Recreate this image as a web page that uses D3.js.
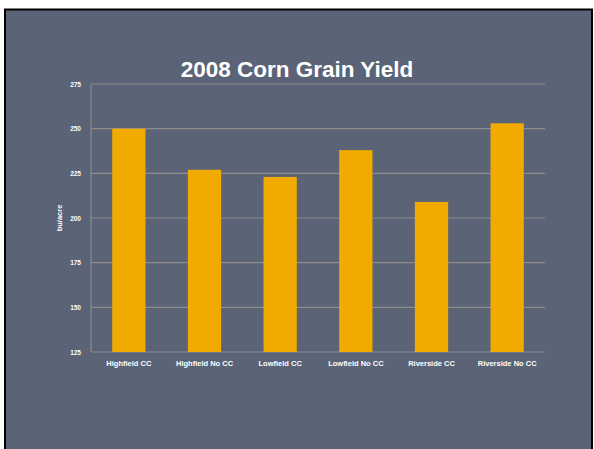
<!DOCTYPE html>
<html>
<head>
<meta charset="utf-8">
<script src="https://cdn.jsdelivr.net/npm/d3@7"></script>
<style>
  body { margin: 0; background: #fff; }
</style>
</head>
<body>
<div id="chart"></div>
<script>
// Data
var categories = ["Highfield CC", "Highfield No CC", "Lowfield CC", "Lowfield No CC", "Riverside CC", "Riverside No CC"];
var yields = [250, 227, 223, 238, 209, 253];
var tickValues = [125, 150, 175, 200, 225, 250, 275];

var W = 594, H = 449,
    font_family = "'Liberation Sans', Arial, sans-serif";

var margin = {top: 84, left: 91, right: 49, bottom: 97},
    width = W - margin.left - margin.right,
    height = H - margin.top - margin.bottom;

var svg = d3.select("#chart").append("svg")
  .attr("width", W)
  .attr("height", H);

// Slide background + frame
svg.append("rect")
  .attr("x", 5).attr("y", 9.5)
  .attr("width", 587).attr("height", 445)
  .attr("fill", "#5b6377")
  .attr("stroke", "#000")
  .attr("stroke-width", 2);

var xScale = d3.scaleBand()
  .domain(categories)
  .range([0, width])
  .paddingInner(0.56)
  .paddingOuter(0.28);

var yScale = d3.scaleLinear()
  .domain([125, 275])
  .range([height, 0]);

var g = svg.append("g")
  .attr("transform", "translate(" + margin.left + "," + margin.top + ")");

// Gridlines
g.append("g")
  .selectAll("line")
  .data(tickValues)
  .enter().append("line")
    .attr("x1", 0)
    .attr("x2", width)
    .attr("y1", function(d) { return yScale(d); })
    .attr("y2", function(d) { return yScale(d); })
    .attr("stroke", "#8c8c8c")
    .attr("stroke-width", 1.2);

// Y axis line
g.append("line")
  .attr("x1", 0).attr("x2", 0)
  .attr("y1", 0).attr("y2", height)
  .attr("stroke", "#8c8c8c")
  .attr("stroke-width", 1.2);

// Bars
g.selectAll(".bar")
  .data(yields)
  .enter().append("rect")
    .attr("class", "bar")
    .attr("x", function(d, i) { return xScale(categories[i]); })
    .attr("y", function(d) { return yScale(d); })
    .attr("width", xScale.bandwidth())
    .attr("height", function(d) { return height - yScale(d); })
    .attr("fill", "#f0aa00");

// Y tick labels
var yAxis = g.append("g")
  .call(d3.axisLeft(yScale).tickValues(tickValues).tickSize(0).tickPadding(10));
yAxis.select(".domain").remove();
yAxis.selectAll("text")
  .attr("font-family", font_family)
  .attr("font-weight", "bold")
  .attr("font-size", "6.5px")
  .attr("fill", "#fff");

// X labels
var xAxis = g.append("g")
  .attr("transform", "translate(0," + height + ")")
  .call(d3.axisBottom(xScale).tickSize(0).tickPadding(9));
xAxis.select(".domain").remove();
xAxis.selectAll("text")
  .attr("font-family", font_family)
  .attr("font-weight", "bold")
  .attr("font-size", "7.5px")
  .attr("fill", "#fff");

// Y axis label
svg.append("text")
  .attr("transform", "translate(62," + (margin.top + height / 2) + ") rotate(-90)")
  .attr("text-anchor", "middle")
  .attr("font-family", font_family)
  .attr("font-weight", "bold")
  .attr("font-size", "7.5px")
  .attr("fill", "#fff")
  .text("bu/acre");

// Title
svg.append("text")
  .attr("x", 297)
  .attr("y", 77)
  .attr("text-anchor", "middle")
  .attr("font-family", font_family)
  .attr("font-weight", "bold")
  .attr("font-size", "22.5px")
  .attr("fill", "#fff")
  .text("2008 Corn Grain Yield");
</script>
</body>
</html>
